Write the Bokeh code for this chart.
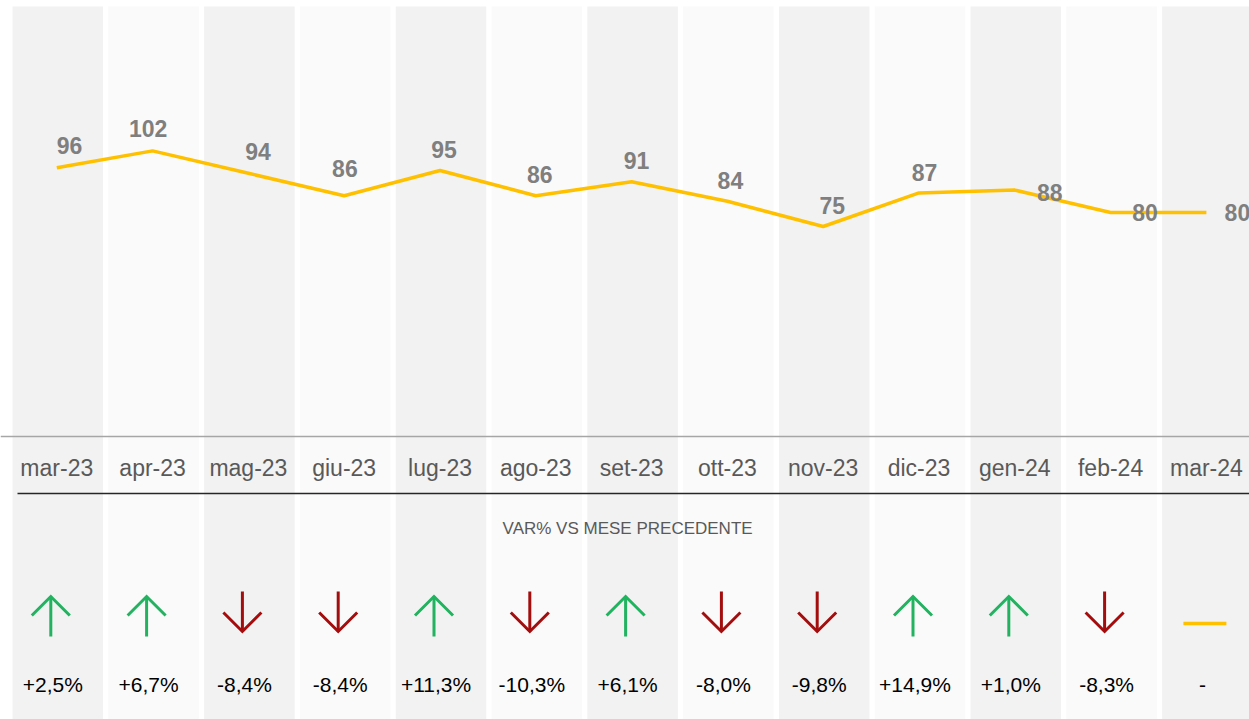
from bokeh.plotting import figure
from bokeh.models import (ColumnDataSource, Range1d, LinearAxis, FixedTicker)
from bokeh.core.properties import value
from bokeh.embed import file_html
from bokeh.resources import INLINE

# ---------------- data ----------------
months = ["mar-23", "apr-23", "mag-23", "giu-23", "lug-23", "ago-23", "set-23",
          "ott-23", "nov-23", "dic-23", "gen-24", "feb-24", "mar-24"]
values = [96, 102, 94, 86, 95, 86, 91, 84, 75, 87, 88, 80, 80]
pct_change = [2.5, 6.7, -8.4, -8.4, 11.3, -10.3, 6.1, -8.0, -9.8, 14.9, 1.0, -8.3, None]
subtitle = "VAR% VS MESE PRECEDENTE"

# ---------------- styles (label nudges in px) ----------------
label_dx = [12.7, -4.5, 9.6, 0.7, 4, 4, 5, 3, 9, 5.5, 35, 34.5, 31]
label_dy = [-22, -22, -22, -27, -21, -21, -21, -20.5, -21, -20, 2, 0, 0]

FONT = value("Liberation Sans")
GREEN = "#21b35f"
RED = "#a30d0d"
YELLOW = "#ffc000"

idx = list(range(len(months)))

W, H = 1249, 719
PX_PER_CAT = 95.8
x_start = -56.3 / PX_PER_CAT
x_end = x_start + W / PX_PER_CAT
PX_PER_UNIT = 2.80
ZERO_Y = 436.0  # pixels from top of figure to value 0
y_end = ZERO_Y / PX_PER_UNIT
y_start = -(H - ZERO_Y) / PX_PER_UNIT

p = figure(width=W, height=H, output_backend="svg", toolbar_location=None,
           x_range=Range1d(x_start, x_end), y_range=Range1d(y_start, y_end),
           x_axis_location=None, y_axis_location=None,
           min_border=0, outline_line_color=None,
           background_fill_color="white", border_fill_color="white")
p.grid.visible = False
# pixel-space vertical range (0 = figure top)
p.extra_y_ranges = {"px": Range1d(start=H, end=0)}

# background columns
col_colors = ["#f2f2f2" if i % 2 == 0 else "#fafafa" for i in idx]
p.vbar(x=[i + 1.0 / PX_PER_CAT for i in idx], width=0.945, bottom=H, top=6,
       y_range_name="px", fill_color=col_colors, line_color=None)

# axis of months with the baseline at value 0
ax = LinearAxis(ticker=FixedTicker(ticks=idx),
                major_label_overrides={i: m for i, m in zip(idx, months)},
                fixed_location=0)
ax.axis_line_color = "#a6a6a6"
ax.axis_line_width = 1.4
ax.major_tick_line_color = None
ax.minor_tick_line_color = None
ax.major_label_text_font = "Liberation Sans"
ax.major_label_text_font_size = "23px"
ax.major_label_text_color = "#595959"
ax.major_label_standoff = 12
p.add_layout(ax, "below")

# black separator under month labels
p.segment(x0=[x_start + 17.0 / PX_PER_CAT], x1=[x_end], y0=[493], y1=[493],
          y_range_name="px", line_color="#262626", line_width=1.3)

# line
p.line(x=idx, y=values, line_color=YELLOW, line_width=3.5, line_join="round")

# data labels
src = ColumnDataSource(dict(x=idx, y=values, t=[str(v) for v in values],
                            dx=label_dx, dy=label_dy))
p.text(x="x", y="y", text="t", x_offset="dx", y_offset="dy", source=src,
       text_font=FONT, text_font_style="bold", text_font_size="23px",
       text_color="#7f7f7f", text_align="center", text_baseline="middle")

# subtitle
p.text(x=[(idx[0] + idx[-1]) / 2 - 4.0 / PX_PER_CAT], y=[528], text=[subtitle],
       y_range_name="px", text_font=FONT, text_font_size="17px",
       text_color="#595959", text_align="center", text_baseline="middle")

# arrows
ADX = -6.0 / PX_PER_CAT
HEAD = 19.0 / PX_PER_CAT
up_x, dn_x, flat_x = [], [], []
for i, c in zip(idx, pct_change):
    if c is None:
        flat_x.append(i)
    elif c >= 0:
        up_x.append(i + ADX)
    else:
        dn_x.append(i + ADX)

xs, ys = [], []
for x in up_x:
    xs += [[x, x], [x - HEAD, x, x + HEAD]]
    ys += [[596, 636], [615, 596, 615]]
p.multi_line(xs=xs, ys=ys, y_range_name="px", line_color=GREEN, line_width=3,
             line_join="miter", line_cap="butt")
xs, ys = [], []
for x in dn_x:
    xs += [[x, x], [x - HEAD, x, x + HEAD]]
    ys += [[591, 631], [612, 631, 612]]
p.multi_line(xs=xs, ys=ys, y_range_name="px", line_color=RED, line_width=3,
             line_join="miter", line_cap="butt")
for x in flat_x:
    p.segment(x0=[x - 23.0 / PX_PER_CAT], x1=[x + 20.0 / PX_PER_CAT],
              y0=[623], y1=[623], y_range_name="px",
              line_color=YELLOW, line_width=3.5)

# percentage texts
def fmt(c):
    if c is None:
        return "-"
    s = f"{c:+.1f}%"
    return s.replace(".", ",")

p.text(x=idx, y=[684] * len(idx), text=[fmt(c) for c in pct_change],
       x_offset=-4, y_range_name="px", text_font=FONT, text_font_size="21px",
       text_color="#000000", text_align="center", text_baseline="middle")

open("out.html", "w").write(file_html(p, INLINE))
